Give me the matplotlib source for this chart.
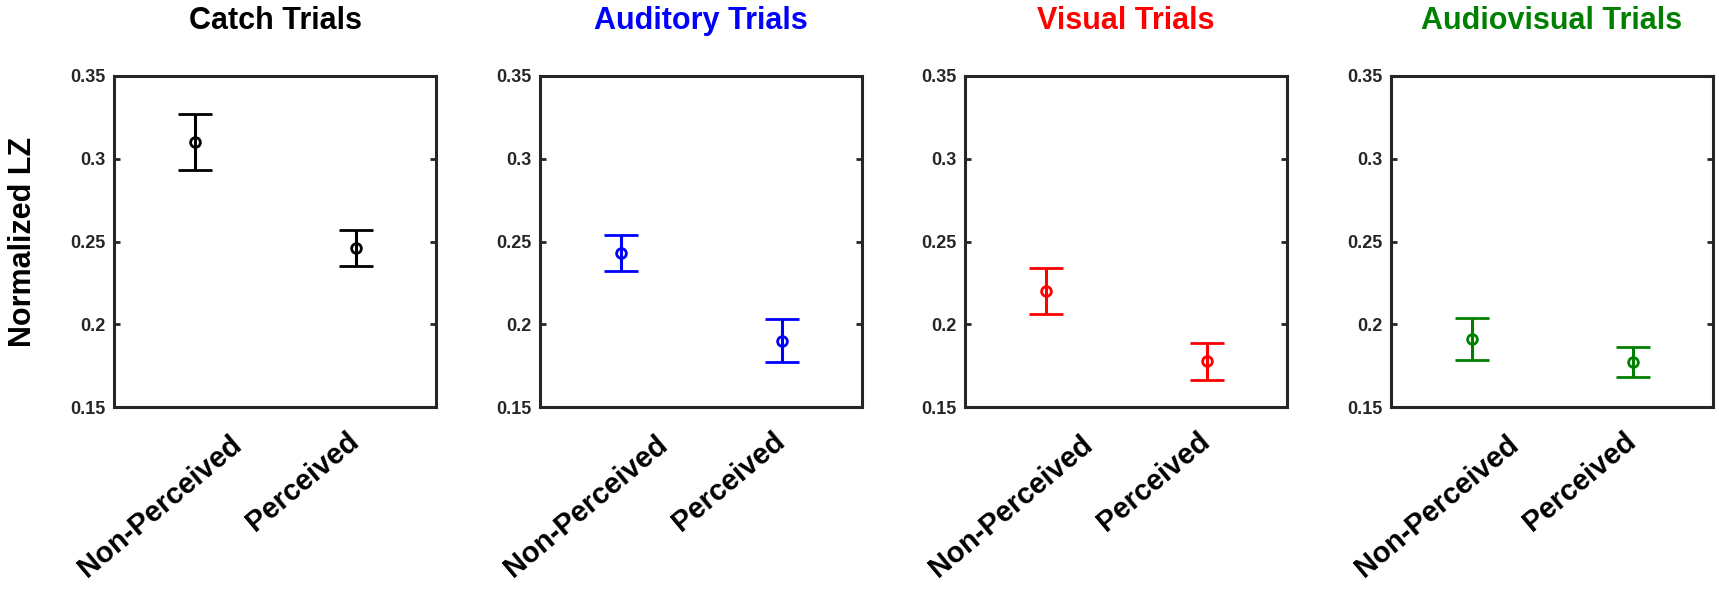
import numpy as np
import matplotlib
matplotlib.use('Agg')
import matplotlib.pyplot as plt
from matplotlib.transforms import ScaledTranslation

# data
conditions = ['Catch Trials', 'Auditory Trials', 'Visual Trials', 'Audiovisual Trials']
colors = ['black', (0, 0, 1), (1, 0, 0), (0, 0.5, 0)]
categories = ['Non-Perceived', 'Perceived']

mean_lz = [[0.310, 0.246],
           [0.243, 0.190],
           [0.220, 0.1775],
           [0.191, 0.1773]]
err_lz = [[0.0168, 0.0107],
          [0.0108, 0.0129],
          [0.0139, 0.0113],
          [0.0128, 0.0092]]

y_ticks = [0.15, 0.2, 0.25, 0.3, 0.35]
y_ticklabels = ['0.15', '0.2', '0.25', '0.3', '0.35']


def main():
    plt.rcParams['font.family'] = ['Liberation Sans', 'DejaVu Sans']
    plt.rcParams['font.weight'] = 'bold'
    axcol = (0.15, 0.15, 0.15)

    W, H = 1719, 592
    fig = plt.figure(figsize=(W / 100, H / 100), dpi=100)

    lefts = [114, 540, 965, 1391]
    ax_w, top, bottom = 322, 76, 407
    # pixel offsets of the rotated labels (right end of baseline vs tick)
    label_shift = [(49, -40), (5, -37)]

    for n in range(4):
        ax = fig.add_axes([lefts[n] / W, (H - bottom) / H, ax_w / W, (bottom - top) / H])
        x = np.arange(1, 3)
        ax.errorbar(x, mean_lz[n], yerr=err_lz[n], fmt='o', color=colors[n],
                    mfc='none', mec=colors[n], ms=7, mew=2, elinewidth=2.2,
                    capsize=12.5, capthick=2.2)
        ax.set_xlim(0.5, 2.5)
        ax.set_ylim(0.15, 0.35)
        ax.set_yticks(y_ticks)
        ax.set_yticklabels(y_ticklabels, fontsize=13, fontweight='bold', color=axcol)
        ax.set_xticks(x)
        ax.set_xticklabels(categories, fontsize=21, fontweight='bold', color='black',
                           rotation=40, ha='right', va='baseline', rotation_mode='anchor')
        ax.tick_params(axis='y', direction='in', length=4, width=2, color=axcol,
                       left=True, right=True, pad=6)
        ax.tick_params(axis='x', length=0, pad=0)
        for lab, (dx, dy) in zip(ax.get_xticklabels(), label_shift):
            lab.set_transform(lab.get_transform() + ScaledTranslation(dx / 100, dy / 100, fig.dpi_scale_trans))
        for sp in ax.spines.values():
            sp.set_linewidth(2.2)
            sp.set_color(axcol)
        ax.set_title(conditions[n], color=colors[n], fontsize=22, fontweight='bold', pad=34)
        if n == 0:
            ax.set_ylabel('Normalized LZ', fontsize=22, fontweight='bold', labelpad=23)

    fig.savefig('out.png', dpi=100)


if __name__ == '__main__':
    main()
